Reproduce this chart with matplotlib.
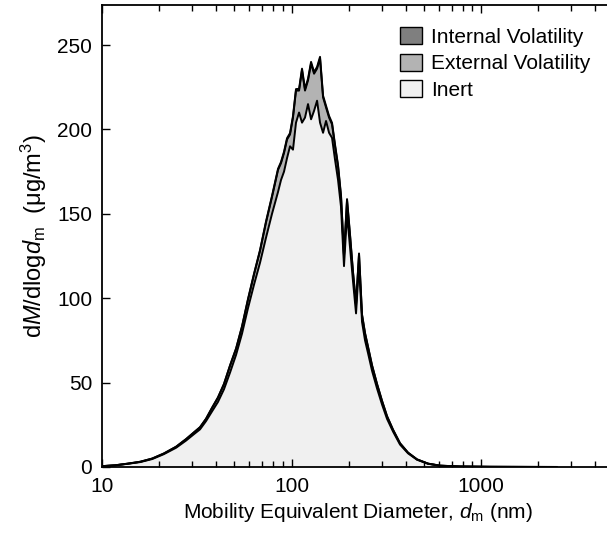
import matplotlib
matplotlib.use("Agg")
import matplotlib.pyplot as plt
from matplotlib.patches import Patch
import numpy as np

plt.rcParams['font.family'] = ['Liberation Sans', 'DejaVu Sans']
plt.rcParams['mathtext.fontset'] = 'custom'
plt.rcParams['mathtext.rm'] = 'Liberation Sans'
plt.rcParams['mathtext.it'] = 'Liberation Sans:italic'
plt.rcParams['font.size'] = 15

# mobility diameter bins (nm)
diameter = [10.0, 11.7, 13.7, 15.9, 18.4, 21.2, 24.6, 27.8, 30.6, 32.9,
            35.4, 38.1, 40.9, 44.0, 47.4, 51.0, 54.8, 58.9, 63.4, 68.2,
            73.4, 78.9, 84.9, 88.0, 91.3, 94.7, 98.2, 101.8, 105.6, 109.6,
            113.6, 117.8, 122.2, 126.8, 131.5, 136.4, 141.4, 146.7, 152.1, 157.8,
            163.6, 169.7, 176.0, 182.5, 189.2, 196.3, 203.6, 211.1, 219.0, 227.1,
            235.5, 244.3, 253.3, 266.0, 282.7, 300.4, 319.2, 343.3, 373.7, 411.9,
            459.6, 525.3, 607.5, 774.8, 1116, 1814, 2500]

# dM/dlogdm, ug/m3
inert = [0.5, 0.95, 1.9, 2.9, 4.7, 7.6, 11.4, 15.7, 19.5, 22.3,
         27.2, 33.0, 38.5, 46.0, 56.0, 66.5, 79.0, 94.0, 108.0, 121.0,
         136.0, 150.0, 163.0, 170.0, 175.0, 183.0, 190.0, 188.0, 204.0, 210.0,
         204.0, 207.0, 215.0, 206.0, 211.0, 217.0, 204.0, 198.0, 205.0, 198.0,
         195.0, 182.0, 170.0, 154.0, 119.0, 150.0, 130.0, 110.0, 91.0, 120.0,
         86.0, 75.0, 67.5, 57.0, 46.5, 37.0, 28.5, 21.0, 13.3, 8.1,
         4.3, 1.9, 0.75, 0.28, 0.11, 0.05, 0.02]

external = [0.0, 0.05, 0.1, 0.2, 0.3, 0.4, 0.6, 0.8, 1.0, 1.2,
            1.3, 2.0, 2.5, 3.0, 4.0, 3.5, 4.0, 5.0, 6.0, 7.0,
            9.0, 10.0, 13.0, 10.0, 11.0, 11.0, 7.0, 19.0, 19.0, 13.0,
            31.0, 16.0, 14.0, 33.0, 22.0, 19.0, 38.0, 21.0, 8.0, 9.0,
            8.0, 8.0, 8.0, 6.0, 6.0, 8.0, 7.0, 5.0, 5.0, 6.0,
            4.0, 4.0, 3.5, 3.0, 2.5, 2.0, 1.5, 1.0, 0.7, 0.4,
            0.2, 0.1, 0.05, 0.02, 0.01, 0.0, 0.0]

internal = [0.0, 0.0, 0.0, 0.0, 0.0, 0.0, 0.0, 0.1, 0.1, 0.1,
            0.1, 0.2, 0.2, 0.2, 0.3, 0.3, 0.4, 0.4, 0.5, 0.5,
            0.6, 0.6, 0.7, 0.7, 0.8, 0.8, 0.8, 0.9, 0.9, 1.0,
            1.0, 1.0, 1.0, 1.0, 1.0, 1.0, 1.0, 1.0, 1.0, 1.0,
            0.9, 0.9, 0.8, 0.8, 0.7, 0.7, 0.6, 0.6, 0.5, 0.5,
            0.4, 0.4, 0.3, 0.3, 0.2, 0.2, 0.1, 0.1, 0.1, 0.0,
            0.0, 0.0, 0.0, 0.0, 0.0, 0.0, 0.0]

labels = ['Internal Volatility', 'External Volatility', 'Inert']
colors = ['#7f7f7f', '#b3b3b3', '#f0f0f0']

d = np.array(diameter)
y1 = np.array(inert)
y2 = y1 + np.array(external)
y3 = y2 + np.array(internal)

fig = plt.figure(figsize=(6.07, 5.37), dpi=100)
ax = fig.add_axes([102/607, 70/537, (613.5-102)/607, 462.5/537])

ax.fill_between(d, 0, y1, facecolor=colors[2], linewidth=0)
ax.fill_between(d, y1, y2, facecolor=colors[1], linewidth=0)
ax.fill_between(d, y2, y3, facecolor=colors[0], linewidth=0)
for yy in (y1, y2, y3):
    ax.plot(d, yy, color='black', linewidth=1.4)

ax.set_xscale('log')
ax.set_xlim(10, 5000)
ax.set_ylim(0, 274)
ax.set_yticks([0, 50, 100, 150, 200, 250])
ax.set_xticks([10, 100, 1000])
ax.set_xticklabels(['10', '100', '1000'])
ax.tick_params(which='both', direction='in', top=True, right=False, width=1.0)
ax.tick_params(which='major', length=6, pad=7)
ax.tick_params(which='minor', length=4)
for s in ax.spines.values():
    s.set_linewidth(1.3)

ax.set_xlabel(r'Mobility Equivalent Diameter, $d_{\rm m}$ (nm)', labelpad=4)
ax.set_ylabel(r'd$M$/dlog$d_{\rm m}$  (μg/m$^3$)', fontsize=17, labelpad=6)

handles = [Patch(facecolor=c, edgecolor='black', linewidth=1.0) for c in colors]
fig.legend(handles, labels, loc='upper left', bbox_to_anchor=(400/607, 1 - 27.5/537),
           frameon=False, borderpad=0, borderaxespad=0, handlelength=1.05,
           handleheight=0.85, handletextpad=0.45, labelspacing=0.33)

fig.savefig('out.png', dpi=100)
